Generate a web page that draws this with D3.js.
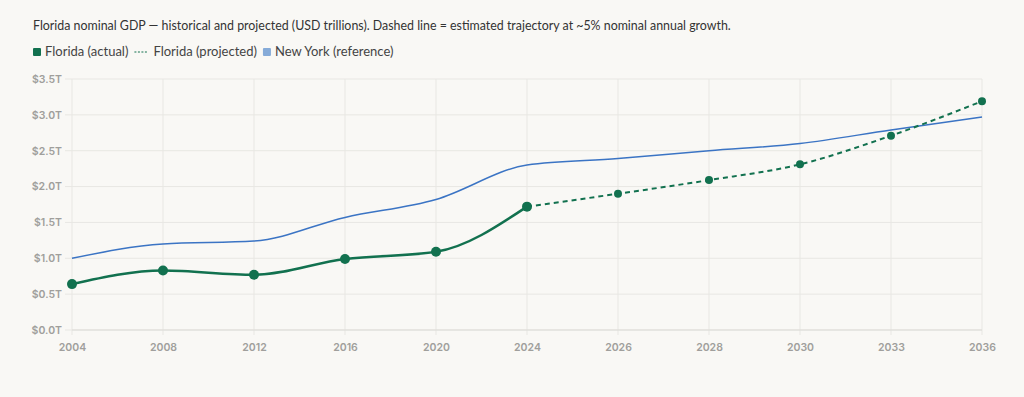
<!DOCTYPE html>
<html>

<head>
    <meta charset="UTF-8">
    <style>
        body {
            margin: 0;
            background: #f9f8f5;
            font-family: "Lato", "Noto Sans", sans-serif;
        }
    </style>
</head>

<body>
    <div id="chart"></div>

    <script src="https://d3js.org/d3.v7.min.js"></script>
    <script>

        // Data (USD trillions)
        const years = ["2004", "2008", "2012", "2016", "2020", "2024", "2026", "2028", "2030", "2033", "2036"];
        const floridaActual = [0.64, 0.83, 0.77, 0.99, 1.09, 1.72, null, null, null, null, null];
        const floridaProjected = [null, null, null, null, null, 1.72, 1.90, 2.09, 2.31, 2.71, 3.19];
        const newYork = [1.00, 1.20, 1.24, 1.57, 1.82, 2.30, 2.39, 2.50, 2.60, 2.79, 2.97];
        const yTicks = [0, 0.5, 1.0, 1.5, 2.0, 2.5, 3.0, 3.5];

        const titleText = "Florida nominal GDP \u2014 historical and projected (USD trillions). Dashed line = estimated trajectory at ~5% nominal annual growth.";
        const legendItems = [
            { label: "Florida (actual)", type: "box", color: "#12714f" },
            { label: "Florida (projected)", type: "dash", color: "#12714f" },
            { label: "New York (reference)", type: "box", color: "#86abd8" }
        ];

        const W = 1024, H = 397;
        const margin = { top: 79, right: 42, bottom: 67, left: 72 };
        const width = W - margin.left - margin.right,
            height = H - margin.top - margin.bottom;

        const green = "#12714f", blue = "#3b74c4";

        const root = d3.select("#chart").append("svg")
            .attr("width", W)
            .attr("height", H);

        // Title
        root.append("text")
            .attr("x", 33).attr("y", 30)
            .style("font-size", "12.4px")
            .style("fill", "#333")
            .text(titleText);

        // Legend, laid out from measured text widths
        const legend = root.append("g").attr("transform", "translate(33,56)");
        let lx = 0;
        legendItems.forEach(item => {
            const g = legend.append("g").attr("transform", `translate(${lx},0)`);
            let sw;
            if (item.type === "box") {
                g.append("rect").attr("x", 0).attr("y", -8).attr("width", 8).attr("height", 8).attr("rx", 1).attr("fill", item.color);
                sw = 12;
            } else {
                g.append("line").attr("x1", 0).attr("x2", 14).attr("y1", -4).attr("y2", -4)
                    .attr("stroke", item.color).attr("stroke-width", 1).attr("stroke-dasharray", "2,1.5");
                sw = 19;
            }
            const t = g.append("text").attr("x", sw).attr("y", 0)
                .style("font-size", "13px").style("fill", "#444")
                .text(item.label);
            lx += sw + t.node().getComputedTextLength() + 6;
        });

        const svg = root.append("g")
            .attr("transform", `translate(${margin.left},${margin.top})`);

        // Scales (category axis, equal spacing)
        const x = d3.scalePoint().domain(years).range([0, width]);
        const y = d3.scaleLinear().domain([0, 3.5]).range([height, 0]);

        // Grid
        svg.append("g")
            .selectAll("line")
            .data(yTicks)
            .join("line")
            .attr("x1", -7).attr("x2", width)
            .attr("y1", d => y(d)).attr("y2", d => y(d))
            .attr("stroke", "#e8e7e3").attr("stroke-width", 1);
        svg.append("g")
            .selectAll("line")
            .data(years)
            .join("line")
            .attr("x1", d => x(d)).attr("x2", d => x(d))
            .attr("y1", 0).attr("y2", height + 5)
            .attr("stroke", "#e8e7e3").attr("stroke-width", 1);
        svg.append("line")
            .attr("x1", 0).attr("x2", width)
            .attr("y1", height).attr("y2", height)
            .attr("stroke", "#dcdbd7");

        // Axes labels
        const yAxis = svg.append("g")
            .call(d3.axisLeft(y).tickValues(yTicks).tickSize(0).tickPadding(10).tickFormat(d => "$" + d3.format(".1f")(d) + "T"));
        yAxis.select(".domain").remove();
        const xAxis = svg.append("g")
            .attr("transform", `translate(0,${height})`)
            .call(d3.axisBottom(x).tickSize(0).tickPadding(14));
        xAxis.select(".domain").remove();
        svg.selectAll(".tick text")
            .style("font-family", "Inter, 'Noto Sans', sans-serif")
            .style("font-size", "10.5px")
            .style("font-weight", "600")
            .style("fill", "#a09f9c");

        // Lines
        const pts = arr => years.map((yr, i) => ({ yr, v: arr[i] })).filter(d => d.v != null);
        const line = d3.line()
            .x(d => x(d.yr))
            .y(d => y(d.v))
            .curve(d3.curveMonotoneX);

        svg.append("path")
            .datum(pts(newYork))
            .attr("fill", "none")
            .attr("stroke", blue)
            .attr("stroke-width", 1.5)
            .attr("d", line);

        svg.append("path")
            .datum(pts(floridaProjected))
            .attr("fill", "none")
            .attr("stroke", green)
            .attr("stroke-width", 2)
            .attr("stroke-dasharray", "5,4")
            .attr("d", line);

        svg.append("path")
            .datum(pts(floridaActual))
            .attr("fill", "none")
            .attr("stroke", green)
            .attr("stroke-width", 2.5)
            .attr("d", line);

        // Points
        svg.selectAll(".proj-pt")
            .data(pts(floridaProjected).slice(1))
            .join("circle")
            .attr("cx", d => x(d.yr))
            .attr("cy", d => y(d.v))
            .attr("r", 4)
            .attr("fill", green);

        svg.selectAll(".act-pt")
            .data(pts(floridaActual))
            .join("circle")
            .attr("cx", d => x(d.yr))
            .attr("cy", d => y(d.v))
            .attr("r", 5)
            .attr("fill", green);

    </script>
</body>

</html>
